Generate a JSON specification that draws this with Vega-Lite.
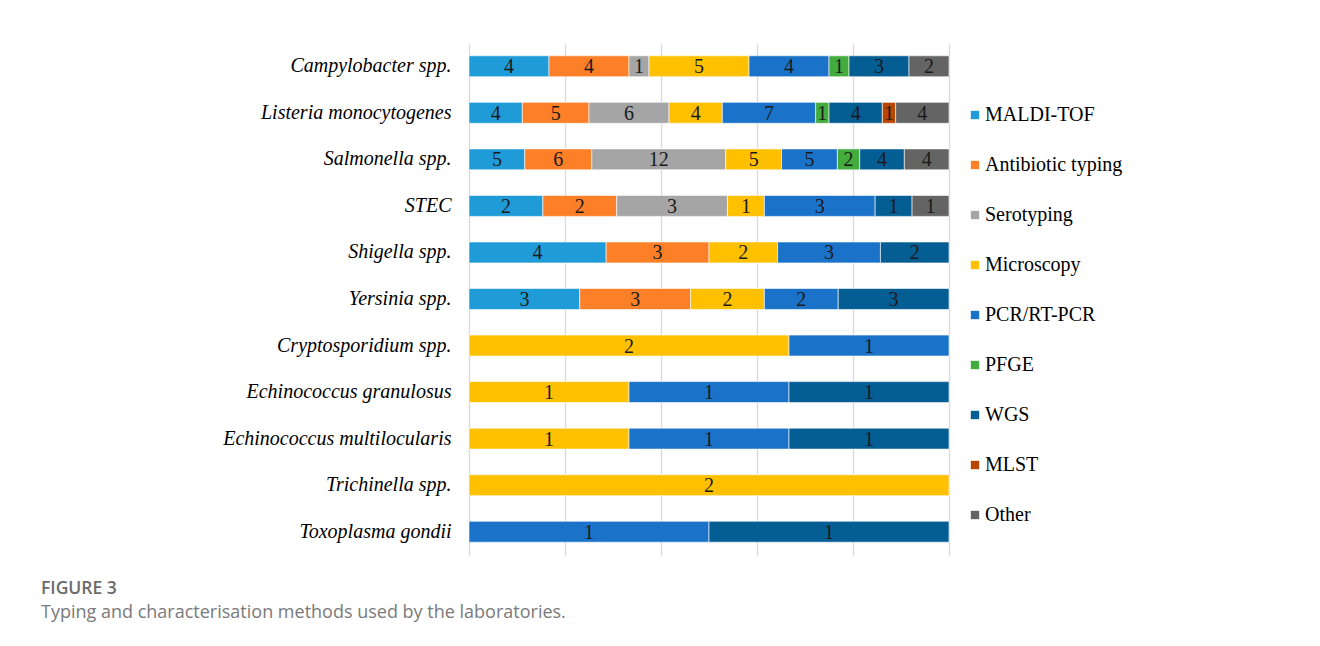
{
  "$schema": "https://vega.github.io/schema/vega-lite/v6.json",
  "autosize": "none",
  "width": 480,
  "height": 512,
  "padding": {"left": 469, "top": 43, "right": 371, "bottom": 91},
  "background": "white",
  "config": {"view": {"stroke": null}, "font": "Liberation Serif"},
  "title": {
    "text": "FIGURE 3",
    "subtitle": "Typing and characterisation methods used by the laboratories.",
    "orient": "bottom",
    "anchor": "start",
    "frame": "group",
    "dx": -428,
    "offset": 25,
    "font": "Open Sans",
    "fontSize": 17.5,
    "fontWeight": 600,
    "color": "#6b6b6b",
    "subtitleFont": "Open Sans",
    "subtitleFontSize": 18,
    "subtitleColor": "#7a7a7a",
    "subtitlePadding": 6
  },
  "data": {
    "values": [
      {"pathogen": "Campylobacter spp.", "method": "MALDI-TOF", "n": 4},
      {"pathogen": "Campylobacter spp.", "method": "Antibiotic typing", "n": 4},
      {"pathogen": "Campylobacter spp.", "method": "Serotyping", "n": 1},
      {"pathogen": "Campylobacter spp.", "method": "Microscopy", "n": 5},
      {"pathogen": "Campylobacter spp.", "method": "PCR/RT-PCR", "n": 4},
      {"pathogen": "Campylobacter spp.", "method": "PFGE", "n": 1},
      {"pathogen": "Campylobacter spp.", "method": "WGS", "n": 3},
      {"pathogen": "Campylobacter spp.", "method": "Other", "n": 2},
      {"pathogen": "Listeria monocytogenes", "method": "MALDI-TOF", "n": 4},
      {"pathogen": "Listeria monocytogenes", "method": "Antibiotic typing", "n": 5},
      {"pathogen": "Listeria monocytogenes", "method": "Serotyping", "n": 6},
      {"pathogen": "Listeria monocytogenes", "method": "Microscopy", "n": 4},
      {"pathogen": "Listeria monocytogenes", "method": "PCR/RT-PCR", "n": 7},
      {"pathogen": "Listeria monocytogenes", "method": "PFGE", "n": 1},
      {"pathogen": "Listeria monocytogenes", "method": "WGS", "n": 4},
      {"pathogen": "Listeria monocytogenes", "method": "MLST", "n": 1},
      {"pathogen": "Listeria monocytogenes", "method": "Other", "n": 4},
      {"pathogen": "Salmonella spp.", "method": "MALDI-TOF", "n": 5},
      {"pathogen": "Salmonella spp.", "method": "Antibiotic typing", "n": 6},
      {"pathogen": "Salmonella spp.", "method": "Serotyping", "n": 12},
      {"pathogen": "Salmonella spp.", "method": "Microscopy", "n": 5},
      {"pathogen": "Salmonella spp.", "method": "PCR/RT-PCR", "n": 5},
      {"pathogen": "Salmonella spp.", "method": "PFGE", "n": 2},
      {"pathogen": "Salmonella spp.", "method": "WGS", "n": 4},
      {"pathogen": "Salmonella spp.", "method": "Other", "n": 4},
      {"pathogen": "STEC", "method": "MALDI-TOF", "n": 2},
      {"pathogen": "STEC", "method": "Antibiotic typing", "n": 2},
      {"pathogen": "STEC", "method": "Serotyping", "n": 3},
      {"pathogen": "STEC", "method": "Microscopy", "n": 1},
      {"pathogen": "STEC", "method": "PCR/RT-PCR", "n": 3},
      {"pathogen": "STEC", "method": "WGS", "n": 1},
      {"pathogen": "STEC", "method": "Other", "n": 1},
      {"pathogen": "Shigella spp.", "method": "MALDI-TOF", "n": 4},
      {"pathogen": "Shigella spp.", "method": "Antibiotic typing", "n": 3},
      {"pathogen": "Shigella spp.", "method": "Microscopy", "n": 2},
      {"pathogen": "Shigella spp.", "method": "PCR/RT-PCR", "n": 3},
      {"pathogen": "Shigella spp.", "method": "WGS", "n": 2},
      {"pathogen": "Yersinia spp.", "method": "MALDI-TOF", "n": 3},
      {"pathogen": "Yersinia spp.", "method": "Antibiotic typing", "n": 3},
      {"pathogen": "Yersinia spp.", "method": "Microscopy", "n": 2},
      {"pathogen": "Yersinia spp.", "method": "PCR/RT-PCR", "n": 2},
      {"pathogen": "Yersinia spp.", "method": "WGS", "n": 3},
      {"pathogen": "Cryptosporidium spp.", "method": "Microscopy", "n": 2},
      {"pathogen": "Cryptosporidium spp.", "method": "PCR/RT-PCR", "n": 1},
      {"pathogen": "Echinococcus granulosus", "method": "Microscopy", "n": 1},
      {"pathogen": "Echinococcus granulosus", "method": "PCR/RT-PCR", "n": 1},
      {"pathogen": "Echinococcus granulosus", "method": "WGS", "n": 1},
      {"pathogen": "Echinococcus multilocularis", "method": "Microscopy", "n": 1},
      {"pathogen": "Echinococcus multilocularis", "method": "PCR/RT-PCR", "n": 1},
      {"pathogen": "Echinococcus multilocularis", "method": "WGS", "n": 1},
      {"pathogen": "Trichinella spp.", "method": "Microscopy", "n": 2},
      {"pathogen": "Toxoplasma gondii", "method": "PCR/RT-PCR", "n": 1},
      {"pathogen": "Toxoplasma gondii", "method": "WGS", "n": 1}
    ]
  },
  "transform": [
    {"calculate": "indexof(['MALDI-TOF','Antibiotic typing','Serotyping','Microscopy','PCR/RT-PCR','PFGE','WGS','MLST','Other'], datum.method)", "as": "k"},
    {"stack": "n", "groupby": ["pathogen"], "sort": [{"field": "k", "order": "ascending"}], "offset": "normalize", "as": ["s0", "s1"]},
    {"calculate": "(datum.s0 + datum.s1) / 2", "as": "mid"}
  ],
  "encoding": {
    "y": {
      "field": "pathogen",
      "type": "nominal",
      "sort": ["Campylobacter spp.", "Listeria monocytogenes", "Salmonella spp.", "STEC", "Shigella spp.", "Yersinia spp.", "Cryptosporidium spp.", "Echinococcus granulosus", "Echinococcus multilocularis", "Trichinella spp.", "Toxoplasma gondii"],
      "scale": {"paddingInner": 0.55, "paddingOuter": 0.275},
      "axis": {
        "title": null,
        "domain": false,
        "ticks": false,
        "labelFont": "Liberation Serif",
        "labelFontStyle": "italic",
        "labelFontSize": 20,
        "labelColor": "#000000",
        "labelPadding": 18,
        "labelLimit": 400
      }
    }
  },
  "layer": [
    {
      "mark": {"type": "bar", "stroke": "white", "strokeWidth": 0.6},
      "encoding": {
        "x": {
          "field": "s0",
          "type": "quantitative",
          "scale": {"domain": [0, 1], "nice": false},
          "axis": {
            "title": null,
            "labels": false,
            "ticks": false,
            "domain": false,
            "grid": true,
            "gridColor": "#d9d9d9",
            "gridWidth": 1.3,
            "values": [0, 0.2, 0.4, 0.6, 0.8, 1]
          }
        },
        "x2": {"field": "s1"},
        "color": {
          "field": "method",
          "type": "nominal",
          "scale": {
            "domain": ["MALDI-TOF", "Antibiotic typing", "Serotyping", "Microscopy", "PCR/RT-PCR", "PFGE", "WGS", "MLST", "Other"],
            "range": ["#1f9bd7", "#fd7f28", "#a5a5a5", "#ffc000", "#1a73c8", "#44ab3f", "#045d93", "#b84603", "#646464"]
          },
          "legend": {
            "title": null,
            "orient": "none",
            "legendX": 496,
            "legendY": 62,
            "symbolType": "square",
            "symbolSize": 70,
            "symbolStrokeWidth": 0,
            "labelFont": "Liberation Serif",
            "labelFontSize": 20,
            "labelColor": "#000000",
            "labelOffset": 0,
            "rowPadding": 30,
            "labelLimit": 300
          }
        }
      }
    },
    {
      "mark": {"type": "text", "font": "Liberation Serif", "fontSize": 20, "color": "#1a1a1a", "baseline": "middle", "dy": 1},
      "encoding": {
        "x": {"field": "mid", "type": "quantitative"},
        "text": {"field": "n", "type": "quantitative"}
      }
    }
  ]
}
